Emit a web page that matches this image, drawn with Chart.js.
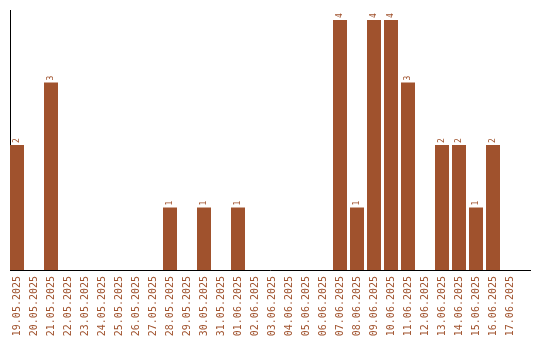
<!DOCTYPE html>
<html>
<head>
<meta charset="utf-8">
<script src="https://cdn.jsdelivr.net/npm/chart.js@4/dist/chart.umd.min.js"></script>
<style>
  html, body { margin: 0; padding: 0; background: #fff; }
  #wrap { width: 540px; height: 340px; }
</style>
</head>
<body>
<div id="wrap"><canvas id="chart" width="540" height="340"></canvas></div>
<script>
// dates on the x axis
const dates = [
    "19.05.2025", "20.05.2025", "21.05.2025", "22.05.2025", "23.05.2025",
    "24.05.2025", "25.05.2025", "26.05.2025", "27.05.2025", "28.05.2025",
    "29.05.2025", "30.05.2025", "31.05.2025", "01.06.2025", "02.06.2025",
    "03.06.2025", "04.06.2025", "05.06.2025", "06.06.2025", "07.06.2025",
    "08.06.2025", "09.06.2025", "10.06.2025", "11.06.2025", "12.06.2025",
    "13.06.2025", "14.06.2025", "15.06.2025", "16.06.2025", "17.06.2025"
];

// counts per day
const counts = [
    2, 0, 3, 0, 0, 0, 0, 0, 0, 1,
    0, 1, 0, 1, 0, 0, 0, 0, 0, 4,
    1, 4, 4, 3, 0, 2, 2, 1, 2, 0
];

const brown = "#a0522d";

// value labels on top of bars, rotated
const valueLabels = {
    id: "valueLabels",
    afterDatasetsDraw(chart) {
        const ctx = chart.ctx;
        const meta = chart.getDatasetMeta(0);
        ctx.save();
        ctx.fillStyle = brown;
        ctx.font = "8px 'DejaVu Sans Mono'";
        ctx.textAlign = "left";
        ctx.textBaseline = "middle";
        meta.data.forEach((bar, i) => {
            if (!counts[i]) return;
            ctx.save();
            ctx.translate(bar.x, bar.y - 2);
            ctx.rotate(-Math.PI / 2);
            ctx.fillText(String(counts[i]), 0, 0);
            ctx.restore();
        });
        ctx.restore();
    }
};

const ctx = document.getElementById("chart").getContext("2d");

new Chart(ctx, {
    type: "bar",
    data: {
        datasets: [{
            data: counts.map((v, i) => ({ x: i, y: v })),
            backgroundColor: brown,
            borderWidth: 0,
            categoryPercentage: 1,
            barPercentage: 14 / 17
        }]
    },
    options: {
        responsive: false,
        animation: false,
        layout: { padding: { left: 10, right: 10, top: 10, bottom: 0 } },
        plugins: {
            legend: { display: false },
            tooltip: { enabled: false }
        },
        scales: {
            x: {
                type: "linear",
                offset: false,
                min: -7 / 17,
                max: -7 / 17 + 520 / 17,
                grid: { display: false, drawTicks: false },
                border: { display: true, color: "#000", width: 1 },
                ticks: {
                    stepSize: 1,
                    includeBounds: false,
                    autoSkip: false,
                    minRotation: 90,
                    maxRotation: 90,
                    padding: 6,
                    color: brown,
                    font: { family: "DejaVu Sans Mono", size: 10 },
                    callback: (v) => Number.isInteger(v) && dates[v] ? dates[v] : ""
                },
                afterFit: (scale) => {
                    scale.paddingLeft = 0;
                    scale.paddingRight = 0;
                    scale.height = 70;
                }
            },
            y: {
                min: 0,
                max: 4.16,
                grid: { display: false, drawTicks: false },
                border: { display: true, color: "#000", width: 1 },
                ticks: { display: false },
                afterFit: (scale) => { scale.width = 0; }
            }
        }
    },
    plugins: [valueLabels]
});
</script>
</body>
</html>
